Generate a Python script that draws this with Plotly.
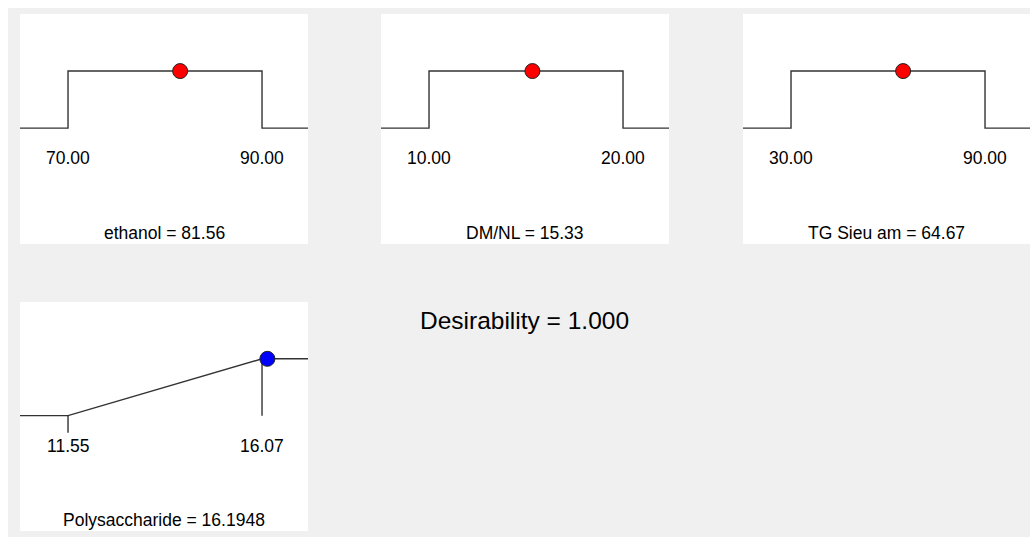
import plotly.graph_objects as go

# Optimisation factors: acceptable range and optimum found
factor_names = ["ethanol", "DM/NL", "TG Sieu am"]
factor_low = [70.0, 10.0, 30.0]
factor_high = [90.0, 20.0, 90.0]
factor_opt = [81.56, 15.33, 64.67]

# Response (maximised)
response_name = "Polysaccharide"
response_low = 11.55
response_high = 16.07
response_pred = 16.1948

desirability = 1.000

W, H = 1030, 537
FONT = "Liberation Sans, Arial, sans-serif"
LINE = dict(color="#333333", width=1.4)

# panel boxes in pixels: (left, top, right, bottom)
boxes = [(20, 14, 308, 244), (381, 14, 669, 244), (743, 14, 1031, 244), (20, 302, 308, 531)]
Y_RANGE = [-2.03, 2.0]
PAD_L, PAD_R = 0.2475, 0.237

fig = go.Figure()
annotations = []


def setup_axes(i, lo, hi, box):
    x0, y0, x1, y1 = box
    r0, r1 = lo - PAD_L * (hi - lo), hi + PAD_R * (hi - lo)
    vis_right = min(x1, W)
    r1_vis = r0 + (r1 - r0) * (vis_right - x0) / (x1 - x0)
    suffix = "" if i == 1 else str(i)
    common = dict(visible=False, showgrid=False, zeroline=False, fixedrange=True)
    fig.layout["xaxis" + suffix] = dict(domain=[x0 / W, vis_right / W], range=[r0, r1_vis],
                                        anchor="y" + suffix, **common)
    fig.layout["yaxis" + suffix] = dict(domain=[1 - y1 / H, 1 - y0 / H], range=Y_RANGE,
                                        anchor="x" + suffix, **common)
    return "x" + suffix, "y" + suffix, r0, r1


def label(xref, yref, x, y, text, size=17.5):
    annotations.append(dict(xref=xref, yref=yref, x=x, y=y, text=text, showarrow=False,
                            font=dict(family=FONT, size=size, color="black"),
                            xanchor="center", yanchor="middle"))


# factor panels: step-shaped desirability (in range)
for i, (name, lo, hi, opt) in enumerate(zip(factor_names, factor_low, factor_high, factor_opt), start=1):
    xa, ya, r0, r1 = setup_axes(i, lo, hi, boxes[i - 1])
    fig.add_trace(go.Scatter(x=[r0, lo, lo, hi, hi, r1], y=[0, 0, 1, 1, 0, 0], mode="lines",
                             line=LINE, xaxis=xa, yaxis=ya, hoverinfo="skip"))
    fig.add_trace(go.Scatter(x=[opt], y=[1], mode="markers", cliponaxis=False,
                             marker=dict(color="#ff0000", size=15, line=dict(color="#222", width=1)),
                             xaxis=xa, yaxis=ya))
    label(xa, ya, lo, -0.53, f"{lo:.2f}")
    label(xa, ya, hi, -0.53, f"{hi:.2f}")
    label(xa + " domain", ya, 0.5, -1.83, f"{name} = {opt:.2f}")

# response panel: ramp up to the target (maximise)
xa, ya, r0, r1 = setup_axes(4, response_low, response_high, boxes[3])
fig.add_trace(go.Scatter(x=[r0, response_low, response_high, r1], y=[0, 0, 1, 1], mode="lines",
                         line=LINE, xaxis=xa, yaxis=ya, hoverinfo="skip"))
fig.add_trace(go.Scatter(x=[response_low, response_low, None, response_high, response_high],
                         y=[0, -0.3, None, 1, 0], mode="lines", line=LINE,
                         xaxis=xa, yaxis=ya, hoverinfo="skip"))
fig.add_trace(go.Scatter(x=[response_pred], y=[1], mode="markers", cliponaxis=False,
                         marker=dict(color="#0000ff", size=15, line=dict(color="#222", width=1)),
                         xaxis=xa, yaxis=ya))
label(xa, ya, response_low, -0.53, f"{response_low:.2f}")
label(xa, ya, response_high, -0.53, f"{response_high:.2f}")
label(xa + " domain", ya, 0.5, -1.83, f"{response_name} = {response_pred:.4f}")

label("paper", "paper", 524 / W, 1 - 320 / H, f"Desirability = {desirability:.3f}", size=24.5)

fig.update_layout(
    width=W, height=H, margin=dict(l=0, r=0, t=0, b=0),
    paper_bgcolor="#f0f0f0", plot_bgcolor="white", showlegend=False,
    annotations=annotations,
    shapes=[
        dict(type="rect", xref="paper", yref="paper", x0=0, x1=8 / W, y0=0, y1=1,
             fillcolor="white", line=dict(width=0), layer="below"),
        dict(type="rect", xref="paper", yref="paper", x0=0, x1=1, y0=1 - 8 / H, y1=1,
             fillcolor="white", line=dict(width=0), layer="below"),
    ],
)

fig.write_html("out.html", config={"displayModeBar": False})
